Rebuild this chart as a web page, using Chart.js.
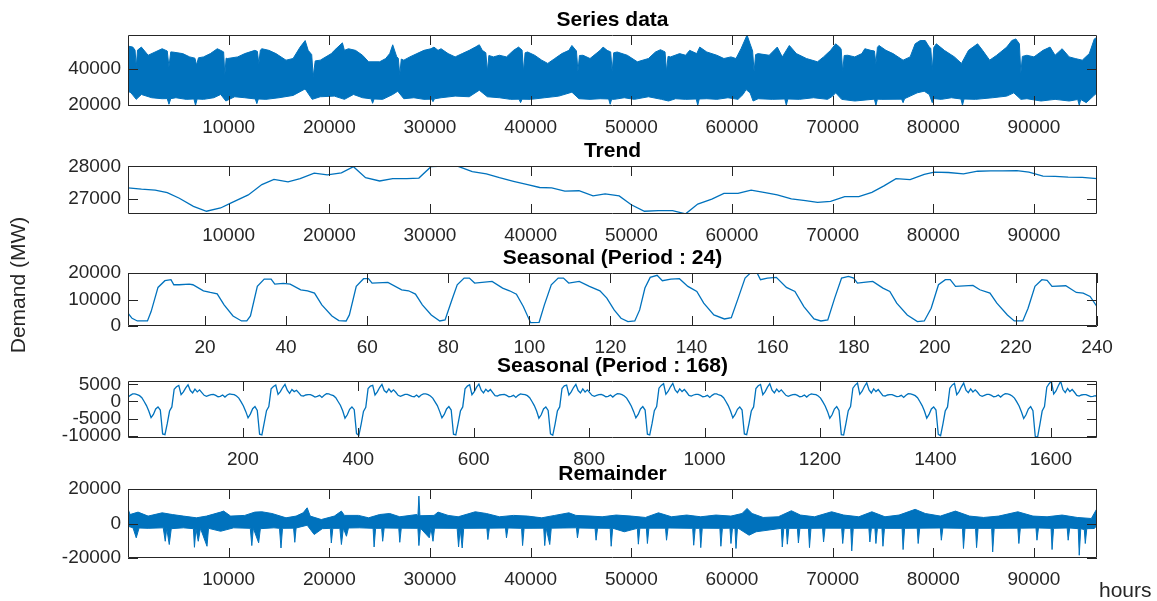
<!DOCTYPE html>
<html lang="en">
<head>
  <meta charset="UTF-8" />
  <title>Demand decomposition</title>
  <script src="https://cdn.jsdelivr.net/npm/chart.js"></script>
  <style>
    body { margin: 0; background: #fff; }
    #page { position: relative; width: 1157px; height: 601px; overflow: hidden; }
    .panel { position: absolute; left: 0; top: 0; width: 1157px; height: 601px; }
  </style>
</head>
<body>
  <div id="page">
    <div class="panel"><canvas id="seriesChart"></canvas></div>
    <div class="panel"><canvas id="trendChart"></canvas></div>
    <div class="panel"><canvas id="daily24Chart"></canvas></div>
    <div class="panel"><canvas id="weekly168Chart"></canvas></div>
    <div class="panel"><canvas id="remainderChart"></canvas></div>
  </div>

  <script>
    // ---- data ----
    // Series data: dense hourly signal, kept as its upper and lower envelope
    const seriesTopHours = [
      1, 480, 700, 820, 950, 1330, 2000, 3390, 3900, 4070,
      4250, 4410, 5440, 6130, 6650, 6810, 7000, 7500, 8180, 8870,
      9210, 9500, 9620, 9750, 9890, 10900, 11600, 12600, 12850, 13000,
      13150, 13300, 14000, 14700, 15700, 16400, 17100, 17600, 17900, 18250,
      18400, 18600, 19100, 20200, 20500, 21300, 21500, 21900, 22600, 23300,
      23900, 25000, 25600, 26000, 26300, 26700, 26850, 27000, 27150, 27400,
      28000, 28700, 29400, 30100, 30400, 30800, 31100, 31800, 32500, 33200,
      33900, 34500, 34900, 35200, 35550, 35700, 35850, 36300, 36900, 37600,
      38300, 38800, 39150, 39300, 39450, 39700, 40400, 41100, 41700, 42400,
      43100, 43800, 44100, 44550, 44700, 44850, 45200, 45900, 46900, 47200,
      47600, 47950, 48100, 48250, 48600, 49600, 50600, 51700, 52400, 52900,
      53350, 53500, 53650, 53900, 54800, 55400, 55800, 56500, 56800, 57500,
      58500, 59200, 59900, 60400, 60900, 61500, 61800, 62050, 62200, 62350,
      62600, 63700, 64500, 65000, 65700, 66400, 67400, 68500, 69100, 69800,
      70300, 70700, 70850, 71000, 71150, 71500, 72200, 72900, 73200, 73800,
      74150, 74300, 74450, 74600, 75300, 76000, 77000, 77700, 78200, 78700,
      79200, 79600, 79750, 79900, 80050, 80300, 81100, 82100, 82800, 83500,
      84400, 84900, 85600, 86300, 87300, 87800, 88200, 88550, 88700, 88850,
      89300, 90000, 90900, 91600, 92100, 92800, 93500, 94100, 94800, 95500,
      96000, 96264
    ];
    const seriesTopMW = [
      52720, 52170, 50500, 41270, 50500, 52170, 47630, 51260, 50000, 41270,
      49500, 49450, 48540, 46720, 46000, 42170, 46200, 46720, 48540, 51260,
      50350, 49500, 36720, 46000, 45810, 46720, 48540, 50350, 49800, 43080,
      50500, 51260, 50350, 48540, 44900, 45810, 52170, 55810, 50350, 48000,
      35810, 44500, 44900, 48540, 50350, 54540, 50350, 51260, 50350, 47630,
      43990, 43990, 45810, 48540, 53450, 46720, 46000, 36720, 45500, 44900,
      46720, 48540, 50350, 51260, 52170, 50350, 51260, 48540, 46720, 48540,
      50350, 52170, 53450, 50350, 49000, 38540, 47500, 46720, 47630, 46720,
      50350, 52170, 50500, 38540, 49000, 49450, 47630, 44900, 43080, 45810,
      48540, 50350, 53080, 50000, 38540, 47500, 47630, 45810, 50350, 52170,
      50350, 49500, 38540, 49000, 49450, 47630, 43990, 45810, 49450, 50720,
      49500, 38540, 47000, 46720, 48540, 47630, 50350, 48540, 52170, 49450,
      47630, 45810, 46720, 45810, 51260, 58900, 53990, 50000, 38540, 48000,
      48540, 47630, 52170, 46720, 53080, 48540, 45810, 43990, 46720, 50350,
      53990, 52170, 51000, 38540, 47500, 47630, 46720, 48540, 51260, 50350,
      50000, 43080, 52000, 53080, 50350, 48540, 44900, 46720, 53990, 55810,
      55810, 52170, 51500, 39450, 52000, 53990, 50350, 46720, 43080, 50350,
      53990, 50350, 44900, 47630, 52170, 55810, 56720, 54000, 37630, 47000,
      47630, 46720, 50350, 52170, 47630, 51260, 46720, 45810, 44900, 48540,
      56720, 57630
    ];
    const seriesLowHours = [
      1, 300, 820, 1330, 2360, 3390, 3900, 4070, 4250, 4760,
      5780, 6550, 6710, 6870, 7500, 8520, 9210, 9720, 10600, 11600,
      12650, 12800, 12950, 13700, 15000, 16400, 17600, 18300, 19100, 20500,
      21500, 22400, 23300, 24150, 24300, 24450, 25300, 26300, 26800, 27400,
      28400, 29400, 30150, 30300, 30450, 31100, 32500, 33900, 34900, 35700,
      36900, 38000, 38850, 39000, 39150, 40000, 41400, 42800, 44100, 44800,
      45900, 46900, 47750, 47900, 48050, 48300, 49300, 50300, 51700, 53000,
      53700, 54400, 55400, 56450, 56600, 56750, 57500, 58500, 59600, 60600,
      61100, 61400, 61800, 62100, 62600, 64000, 65250, 65400, 65550, 66700,
      68100, 69500, 70000, 70300, 70900, 72200, 74150, 74300, 74450, 74900,
      76850, 77000, 77150, 77700, 78400, 79100, 79600, 79900, 80050, 80800,
      81800, 82750, 82900, 83050, 84200, 85900, 87300, 88000, 88700, 89300,
      90700, 92100, 93500, 94350, 94500, 94650, 95200, 95900, 96264
    ];
    const seriesLowMW = [
      27630, 26720, 23090, 25810, 23990, 23450, 23500, 20360, 23500, 23990,
      23090, 23300, 19810, 23300, 23090, 23990, 25810, 22180, 24540, 23990,
      23300, 20720, 23300, 23090, 23990, 25270, 28900, 23090, 24540, 24900,
      23090, 25810, 23990, 23400, 20900, 23300, 23090, 25810, 27630, 23450,
      23990, 23090, 23200, 21810, 23400, 23990, 24900, 24540, 28180, 24540,
      23990, 23090, 23200, 21270, 23200, 23090, 23990, 24900, 27090, 23450,
      23090, 23450, 23300, 20360, 23200, 23090, 23990, 23090, 24540, 23090,
      22180, 23450, 23090, 23300, 19810, 23300, 23450, 23090, 23990, 23090,
      25810, 28540, 26720, 22180, 23450, 23090, 23300, 19810, 23300, 23090,
      23990, 23090, 24900, 26720, 23090, 22180, 23200, 19810, 23200, 23090,
      23200, 21270, 23500, 24900, 26720, 27630, 25810, 21270, 23500, 23090,
      23990, 23300, 19810, 23300, 23090, 23990, 24900, 26720, 23090, 23450,
      22180, 23090, 22180, 23000, 19810, 23000, 21270, 24900, 26720
    ];

    // Trend
    const trendHours = [
      1, 1340, 2700, 3900, 5100, 6500, 7800, 9200, 10200, 11950,
      13300, 14500, 15900, 17100, 18500, 19800, 21200, 22400, 23600, 25000,
      26300, 27700, 28900, 30100, 31500, 32800, 34200, 35600, 36900, 38300,
      39700, 40900, 42100, 43400, 44800, 46200, 47400, 48800, 50000, 51300,
      52700, 54100, 55400, 56600, 58000, 59200, 60600, 61900, 63300, 64500,
      65900, 67300, 68500, 69800, 71200, 72600, 73900, 75100, 76300, 77700,
      79100, 80100, 81500, 83000, 84400, 85700, 86900, 88300, 89500, 90900,
      92100, 93400, 94800, 96264
    ];
    const trendMW = [
      27347, 27307, 27277, 27198, 27030, 26782, 26634, 26733, 26881, 27129,
      27446, 27604, 27525, 27624, 27792, 27743, 27802, 27990, 27653, 27554,
      27624, 27624, 27644, 27990, 28010, 28000, 27842, 27772, 27653, 27545,
      27446, 27356, 27347, 27248, 27257, 27099, 27159, 27099, 26832, 26634,
      26654, 26654, 26554, 26852, 27000, 27178, 27178, 27277, 27198, 27129,
      27010, 26960, 26901, 26931, 27079, 27079, 27208, 27406, 27624, 27594,
      27752, 27822, 27812, 27772, 27851, 27861, 27861, 27871, 27822, 27703,
      27693, 27673, 27663, 27624
    ];

    // Seasonal, period 24 (first 240 hours)
    const daily24Hours = [
      1, 2, 3.3, 5.8, 6.7, 8.4, 10.1, 11.6, 12.3, 13.6,
      16.1, 17, 19.6, 21.3, 23, 24.7, 26.9, 29, 30.3, 31.2,
      32.9, 34.6, 36.3, 37.2, 39.3, 41, 43.6, 45.3, 47, 48.8,
      51.3, 53, 54.8, 55.6, 57.3, 59.1, 60.3, 61.2, 65.1, 68.5,
      70.2, 71.9, 73.6, 75.8, 77.9, 79.2, 80.9, 82.2, 83.9, 85.2,
      86.5, 90.8, 93.4, 95.1, 96.8, 98.5, 100.3, 102.4, 103.7, 105.4,
      107.1, 108.4, 109.7, 112.3, 114.8, 117.4, 119.1, 120.9, 122.6, 124.3,
      126, 127.2, 128.5, 129.8, 131.5, 132.8, 134.9, 137, 139.1, 141.3,
      143, 145.5, 148.1, 149.8, 151.5, 153.2, 154.5, 156.2, 157, 158.7,
      160.9, 163.4, 165.5, 167.7, 170.2, 171.9, 173.6, 175.3, 177, 178.7,
      180, 180.9, 183, 184.7, 187.2, 188.9, 190.6, 193.2, 195.7, 197.4,
      199.1, 200.9, 202.6, 203.8, 205.1, 209.4, 211.1, 213.6, 215.3, 217.9,
      219.6, 221.7, 223, 224.7, 226.4, 227.7, 228.9, 232.3, 234.9, 236.6,
      238.3, 240
    ];
    const daily24MW = [
      4811, 2912, 1899, 1899, 5444, 14560, 17090, 17470, 15570, 15570,
      15825, 15570, 13290, 12660, 12150, 7976, 3798, 1899, 1899, 3798,
      14940, 17720, 17720, 15825, 16080, 15825, 13670, 13290, 12410, 7976,
      3798, 2026, 1899, 4178, 14940, 17850, 17850, 16200, 16460, 13670,
      13290, 12030, 7976, 4178, 1899, 2279, 9875, 15570, 18100, 18100,
      16200, 16840, 14310, 13290, 12030, 7343, 1266, 1393, 7976, 15570,
      18100, 18100, 16200, 16840, 14940, 13290, 10510, 6077, 2912, 1646,
      1899, 6077, 14310, 18360, 19120, 17090, 17720, 17850, 14940, 13040,
      8609, 4178, 2659, 3165, 10510, 18100, 19950, 19950, 17470, 18100,
      18360, 14560, 13040, 7343, 2659, 1899, 2279, 10510, 18100, 18740,
      18100, 16200, 16580, 16840, 14310, 13040, 8609, 4178, 1646, 1899,
      6710, 15570, 17470, 17470, 14940, 15320, 13670, 12410, 8609, 4178,
      1899, 1899, 6710, 14940, 17470, 17220, 14940, 15190, 12660, 12410,
      11140, 7343
    ];

    // Seasonal, period 168 (first 1680 hours), read every 4 hours, one week per row
    const weekly168Step = 4;
    const weekly168MW = [
      1200, 1800, 2200, 2200, 2000, 1700, 1100, 0, -1200, -2800, -4700, -3800, -2200, -1600, -2500, -9500, -9700, -6500, -2800, -1600, 3600, 4300, 4700, 2000, 2800, 4000, 4900, 3200, 2500, 3600, 2800, 3400, 2600, 1800, 1500, 1800, 2000, 2100, 1800, 1400, 1500, 1900,
      1300, 1900, 2200, 2100, 2000, 1600, 1000, -100, -1300, -2900, -4800, -3700, -2100, -1500, -2600, -9600, -9800, -6300, -2700, -1500, 3700, 4400, 4800, 2100, 2900, 4100, 5000, 3300, 2400, 3500, 2900, 3300, 2500, 1700, 1600, 1900, 2000, 2000, 1700, 1300, 1500, 1800,
      1200, 1800, 2300, 2200, 1900, 1700, 1100, 0, -1100, -2700, -4900, -3900, -2300, -1600, -2400, -9400, -9900, -6600, -2900, -1700, 3800, 4500, 4700, 1900, 2800, 4100, 5000, 3200, 2600, 3700, 2800, 3400, 2700, 1800, 1500, 1800, 2100, 2100, 1800, 1500, 1400, 1900,
      1300, 1900, 2200, 2200, 2000, 1600, 1000, -100, -1200, -2900, -4800, -3800, -2200, -1500, -2500, -9600, -9800, -6400, -2800, -1600, 3700, 4500, 4900, 2000, 2900, 4200, 5100, 3300, 2500, 3600, 2900, 3500, 2600, 1700, 1600, 1900, 2000, 2100, 1800, 1400, 1500, 1800,
      1200, 1800, 2200, 2100, 2000, 1700, 1100, 0, -1200, -2800, -4900, -3900, -2200, -1600, -2600, -9500, -9900, -6600, -2800, -1600, 3800, 4600, 4800, 1900, 2800, 4100, 5000, 3200, 2500, 3700, 2800, 3400, 2600, 1800, 1500, 1800, 2000, 2100, 1800, 1400, 1500, 1900,
      1300, 1900, 2300, 2200, 2000, 1600, 1000, -100, -1300, -2900, -4800, -3800, -2200, -1500, -2500, -9600, -9800, -6500, -2700, -1500, 3900, 4700, 5200, 2100, 3000, 4300, 5300, 3400, 2600, 3700, 2900, 3500, 2700, 1800, 1600, 1900, 2100, 2100, 1800, 1400, 1500, 1800,
      1200, 1800, 2200, 2200, 1900, 1700, 1100, 0, -1200, -2800, -4800, -3800, -2300, -1600, -2500, -9500, -9700, -6500, -2800, -1600, 3800, 4600, 5000, 2000, 2900, 4200, 5200, 3300, 2500, 3600, 2800, 3400, 2600, 1800, 1500, 1800, 2000, 2100, 1800, 1400, 1500, 1900,
      1300, 1900, 2200, 2100, 2000, 1600, 1000, -100, -1300, -2900, -4900, -3900, -2200, -1500, -2600, -9700, -9800, -6400, -2700, -1500, 3900, 4800, 5400, 2100, 3000, 4400, 5500, 3400, 2500, 3700, 2900, 3500, 2600, 1700, 1600, 1900, 2000, 2000, 1700, 1400, 1500, 1800,
      1200, 1800, 2300, 2200, 2000, 1700, 1100, 0, -1200, -2800, -4900, -3800, -2200, -1600, -2500, -9600, -10000, -6600, -2800, -1600, 3900, 4800, 5300, 2000, 2900, 4300, 5400, 3300, 2600, 3700, 2800, 3400, 2700, 1800, 1500, 1800, 2100, 2100, 1800, 1400, 1500, 1900,
      1300, 1900, 2300, 2200, 2000, 1600, 1000, -100, -1300, -3000, -5000, -3900, -2200, -1500, -2700, -10200, -10500, -6800, -2800, -1500, 4200, 5200, 5900, 2200, 3100, 4600, 5900, 3500, 2600, 3800, 2900, 3500, 2700, 1800, 1600, 1900, 2000, 2000, 1700, 1400, 1500, 1700,
      1300
    ];

    // Remainder: upper and lower envelope of the dense hourly signal
    const remTopHours = [
      1, 200, 1000, 2000, 3400, 4400, 5500, 6800, 7800, 9200,
      9500, 10200, 11600, 12600, 13300, 14300, 15700, 16700, 17400, 17800,
      18100, 19200, 20500, 21200, 21500, 22900, 23900, 25000, 26000, 27000,
      28700, 28800, 28900, 29000, 30400, 30800, 31800, 32800, 34500, 35600,
      36900, 38300, 39700, 41100, 42400, 43800, 44500, 46000, 47100, 48500,
      50000, 51400, 52700, 54000, 55500, 56900, 58400, 59900, 61000, 61500,
      62000, 63100, 64600, 65900, 66800, 68200, 69900, 71100, 72600, 73900,
      75200, 76600, 78200, 79200, 80700, 82200, 83600, 85000, 86500, 88400,
      89900, 91300, 92800, 94300, 95700, 96264
    ];
    const remTopMW = [
      8500, 5200, 6600, 4300, 6200, 5200, 4300, 3300, 4300, 6600,
      7200, 4300, 4700, 6600, 6800, 5800, 3300, 4300, 6200, 9100,
      4300, 2300, 4300, 7200, 4700, 4700, 3300, 5200, 5800, 3900,
      5200, 4500, 15900, 4500, 4700, 6600, 4700, 3900, 6800, 5800,
      3900, 4700, 4300, 3300, 4700, 6200, 4700, 4300, 3900, 4900,
      4300, 3500, 6200, 3900, 4900, 3900, 4900, 4300, 5800, 8700,
      5800, 3500, 3900, 7400, 4900, 3900, 6800, 4900, 3900, 6800,
      3900, 4900, 8200, 5800, 4300, 7200, 4300, 3500, 4300, 6800,
      4300, 3900, 4900, 3500, 2900, 8700
    ];
    const remLowHours = [
      1, 500, 820, 1100, 2000, 3500, 3700, 3850, 4100, 4300,
      5500, 6500, 6600, 6750, 6980, 7200, 7850, 8000, 9200, 10500,
      12150, 12300, 12450, 12980, 13150, 14500, 15050, 15200, 15350, 16450,
      16570, 16700, 17800, 18500, 19300, 20100, 20200, 20350, 21050, 21200,
      21400, 21700, 21900, 23000, 24350, 24450, 24600, 25200, 25300, 25450,
      26900, 27000, 27150, 28800, 28900, 29050, 29930, 30100, 30300, 30450,
      32700, 32840, 33000, 33200, 33350, 35650, 35750, 35900, 37500, 37600,
      37750, 39100, 39200, 39350, 41300, 41400, 41550, 41900, 42050, 44550,
      44650, 44800, 46400, 46500, 46650, 47900, 48000, 48150, 49300, 50600,
      50700, 50850, 51500, 51600, 51750, 53400, 53500, 53650, 56100, 56200,
      56350, 56800, 56900, 57050, 58800, 58900, 59050, 59800, 59900, 60050,
      60300, 60400, 60550, 61700, 62400, 64900, 65000, 65150, 65400, 65500,
      65650, 66500, 66600, 66750, 67600, 67700, 67850, 69000, 69100, 69250,
      70900, 71000, 71150, 71800, 71900, 72050, 73600, 73700, 73850, 74200,
      74300, 74450, 74900, 75000, 75150, 76900, 77000, 77150, 78400, 78500,
      78650, 80700, 80800, 80950, 82900, 83000, 83150, 84200, 84300, 84450,
      85800, 85900, 86050, 88400, 88500, 88650, 90200, 90300, 90450, 91700,
      91800, 91950, 93300, 93400, 93550, 94400, 94500, 94650, 95000, 95100,
      95250, 96000, 96264
    ];
    const remLowMW = [
      -1600, -2500, -8300, -2600, -2800, -2500, -10300, -2900, -12200, -3000,
      -2500, -3000, -13800, -3000, -10300, -2800, -13200, -2800, -4500, -2500,
      -2800, -12800, -2800, -11200, -3000, -2500, -2800, -14200, -2800, -2700,
      -10900, -2600, -1000, -6400, -3000, -2800, -11300, -2800, -2800, -12200,
      -2700, -7400, -2600, -2500, -2800, -13600, -2800, -2800, -10300, -2600,
      -2700, -10900, -2700, -2800, -12800, -2700, -8300, -2800, -10300, -2700,
      -2800, -13600, -3000, -14200, -2800, -2700, -9300, -2700, -2600, -8300,
      -2600, -2800, -12800, -2800, -2700, -12800, -2800, -12200, -2700, -2500,
      -8300, -2600, -2800, -9700, -2700, -2800, -13200, -2700, -4800, -2800,
      -12000, -2700, -2700, -11600, -2700, -2700, -9700, -2600, -2800, -12600,
      -2800, -2800, -14000, -2700, -2800, -13200, -2800, -2700, -11600, -2800,
      -2800, -14500, -2500, -6800, -4800, -2800, -13600, -2800, -2800, -12000,
      -2800, -2800, -11300, -2800, -2800, -14000, -2800, -2700, -10700, -2700,
      -2700, -11600, -2800, -2800, -15900, -2800, -2700, -10700, -2700, -2700,
      -11600, -2700, -2800, -13200, -2800, -2800, -15100, -2800, -2700, -11600,
      -2700, -2600, -9700, -2600, -2800, -14500, -2800, -2800, -14000, -2800,
      -2800, -16500, -2800, -2700, -11600, -2700, -2600, -9700, -2600, -2800,
      -15100, -2800, -2600, -9700, -2600, -3000, -18400, -3000, -3500, -11600,
      -3000, -2900, -1000
    ];

    // axis ticks
    const hourTicks = [10000, 20000, 30000, 40000, 50000, 60000, 70000, 80000, 90000];
    const dayTicks = [20, 40, 60, 80, 100, 120, 140, 160, 180, 200, 220, 240];
    const weekTicks = [200, 400, 600, 800, 1000, 1200, 1400, 1600];
    const seriesYTicks = [20000, 40000];
    const trendYTicks = [27000, 28000];
    const daily24YTicks = [0, 10000, 20000];
    const weekly168YTicks = [-10000, -5000, 0, 5000];
    const remYTicks = [-20000, 0, 20000];

    // ---- drawing ----
    const LINE_COLOR = '#0072BD';
    const AXIS_COLOR = '#262626';
    const FONT_FAMILY = '"Liberation Sans", Arial, Helvetica, sans-serif';
    const PAGE_W = 1157, PAGE_H = 601;
    const PLOT_LEFT = 128, PLOT_RIGHT = 1097;
    const X_AXIS_H = 40;
    const TICK_LEN = 10;

    function pts(xs, ys) {
      return xs.map((x, i) => ({ x: x, y: ys[i] }));
    }

    // envelope -> closed outline (top forward, bottom back)
    function band(topX, topY, lowX, lowY) {
      return pts(topX, topY).concat(pts(lowX, lowY).reverse());
    }

    // box, inward ticks on all four sides, title and loose labels
    const matlabAxes = {
      id: 'matlabAxes',
      afterDraw(chart, args, opts) {
        const { ctx, chartArea: a } = chart;
        const xs = chart.scales.x, ys = chart.scales.y;
        ctx.save();
        ctx.strokeStyle = AXIS_COLOR;
        ctx.lineWidth = 1;
        ctx.beginPath();
        xs.ticks.forEach(t => {
          const px = Math.round(xs.getPixelForValue(t.value)) + 0.5;
          ctx.moveTo(px, a.bottom); ctx.lineTo(px, a.bottom - TICK_LEN);
          ctx.moveTo(px, a.top); ctx.lineTo(px, a.top + TICK_LEN);
        });
        ys.ticks.forEach(t => {
          const py = Math.round(ys.getPixelForValue(t.value)) + 0.5;
          ctx.moveTo(a.left, py); ctx.lineTo(a.left + TICK_LEN, py);
          ctx.moveTo(a.right, py); ctx.lineTo(a.right - TICK_LEN, py);
        });
        ctx.rect(a.left + 0.5, a.top + 0.5, a.right - a.left - 1, a.bottom - a.top - 1);
        ctx.stroke();

        ctx.fillStyle = '#000';
        ctx.font = 'bold 21px ' + FONT_FAMILY;
        ctx.textAlign = 'center';
        ctx.textBaseline = 'alphabetic';
        ctx.fillText(opts.title, (a.left + a.right) / 2, a.top - 9);

        ctx.font = '21px ' + FONT_FAMILY;
        ctx.fillStyle = AXIS_COLOR;
        (opts.labels || []).forEach(l => {
          ctx.save();
          ctx.translate(l.x, l.y);
          if (l.rotate) ctx.rotate(-Math.PI / 2);
          ctx.textAlign = l.align || 'center';
          ctx.textBaseline = l.baseline || 'middle';
          ctx.fillText(l.text, 0, 0);
          ctx.restore();
        });
        ctx.restore();
      }
    };

    function makePanel(id, p) {
      const tickFont = { family: FONT_FAMILY, size: 19 };
      return new Chart(document.getElementById(id), {
        type: 'line',
        data: { datasets: p.datasets },
        options: {
          responsive: true,
          maintainAspectRatio: false,
          animation: false,
          events: [],
          layout: { padding: { top: p.top, bottom: PAGE_H - p.bottom - X_AXIS_H, left: 0, right: PAGE_W - PLOT_RIGHT } },
          elements: { point: { radius: 0 }, line: { tension: 0 } },
          plugins: {
            legend: { display: false },
            tooltip: { enabled: false },
            matlabAxes: { title: p.title, labels: p.labels }
          },
          scales: {
            x: {
              type: 'linear', min: p.xMin, max: p.xMax,
              grid: { display: false, drawTicks: false },
              border: { display: false },
              ticks: { autoSkip: false, maxRotation: 0, padding: 10, color: AXIS_COLOR, font: tickFont,
                       callback: v => String(v) },
              afterBuildTicks: s => { s.ticks = p.xTicks.map(v => ({ value: v })); },
              afterFit: s => { s.height = X_AXIS_H; }
            },
            y: {
              type: 'linear', min: p.yMin, max: p.yMax,
              grid: { display: false, drawTicks: false },
              border: { display: false },
              ticks: { autoSkip: false, padding: 7, color: AXIS_COLOR, font: tickFont,
                       callback: v => String(v) },
              afterBuildTicks: s => { s.ticks = p.yTicks.map(v => ({ value: v })); },
              afterFit: s => { s.width = PLOT_LEFT; }
            }
          }
        },
        plugins: [matlabAxes]
      });
    }

    makePanel('seriesChart', {
      top: 35, bottom: 106, title: 'Series data',
      xMin: 1, xMax: 96264, xTicks: hourTicks,
      yMin: 19400, yMax: 58900, yTicks: seriesYTicks,
      datasets: [{
        data: band(seriesTopHours, seriesTopMW, seriesLowHours, seriesLowMW),
        borderColor: LINE_COLOR, backgroundColor: LINE_COLOR, borderWidth: 1, fill: 'shape'
      }]
    });

    makePanel('trendChart', {
      top: 166, bottom: 214, title: 'Trend',
      xMin: 1, xMax: 96264, xTicks: hourTicks,
      yMin: 26550, yMax: 28010, yTicks: trendYTicks,
      datasets: [{ data: pts(trendHours, trendMW), borderColor: LINE_COLOR, borderWidth: 1.3, fill: false }]
    });

    makePanel('daily24Chart', {
      top: 273, bottom: 326, title: 'Seasonal (Period : 24)',
      xMin: 1, xMax: 240, xTicks: dayTicks,
      yMin: 0, yMax: 20000, yTicks: daily24YTicks,
      datasets: [{ data: pts(daily24Hours, daily24MW), borderColor: LINE_COLOR, borderWidth: 1.3, fill: false }]
    });

    makePanel('weekly168Chart', {
      top: 381, bottom: 438, title: 'Seasonal (Period : 168)',
      xMin: 1, xMax: 1680, xTicks: weekTicks,
      yMin: -10700, yMax: 6000, yTicks: weekly168YTicks,
      datasets: [{
        data: weekly168MW.map((v, i) => ({ x: 1 + i * weekly168Step, y: v })),
        borderColor: LINE_COLOR, borderWidth: 1.3, fill: false
      }]
    });

    makePanel('remainderChart', {
      top: 489, bottom: 558, title: 'Remainder',
      xMin: 1, xMax: 96264, xTicks: hourTicks,
      yMin: -20000, yMax: 20000, yTicks: remYTicks,
      datasets: [{
        data: band(remTopHours, remTopMW, remLowHours, remLowMW),
        borderColor: LINE_COLOR, backgroundColor: LINE_COLOR, borderWidth: 1, fill: 'shape'
      }],
      labels: [
        { text: 'Demand (MW)', x: 19, y: 285, rotate: true },
        { text: 'hours', x: 1099, y: 597, align: 'left', baseline: 'alphabetic' }
      ]
    });
  </script>
</body>
</html>
